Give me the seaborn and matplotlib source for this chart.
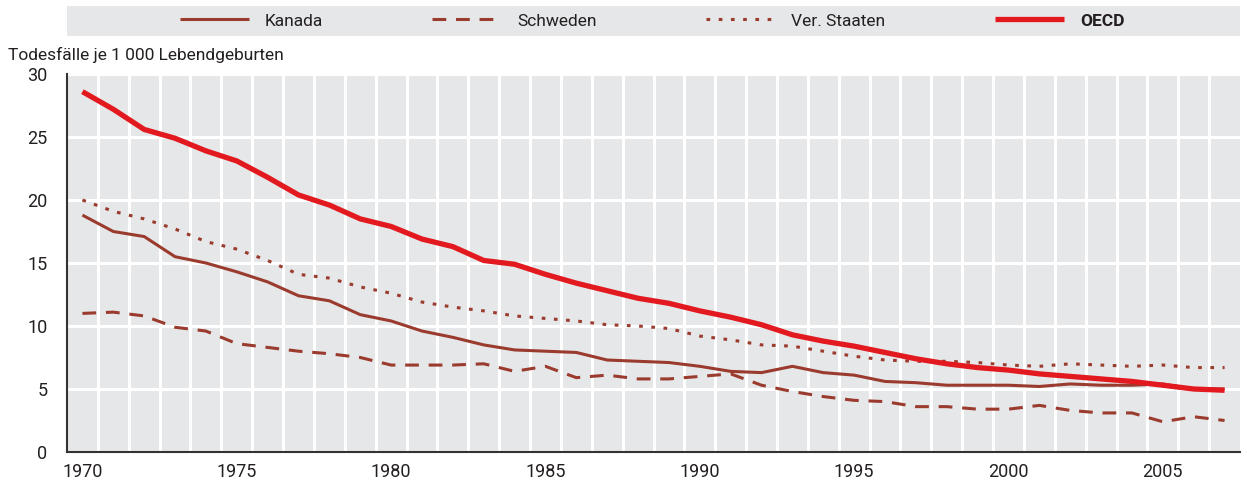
import numpy as np
import pandas as pd
import matplotlib
matplotlib.use("Agg")
import matplotlib.pyplot as plt
import seaborn as sns

# Data (deaths per 1 000 live births)
years = list(range(1970, 2008))
kanada = [18.8, 17.5, 17.1, 15.5, 15.0, 14.3, 13.5, 12.4, 12.0, 10.9,
          10.4, 9.6, 9.1, 8.5, 8.1, 8.0, 7.9, 7.3, 7.2, 7.1,
          6.8, 6.4, 6.3, 6.8, 6.3, 6.1, 5.6, 5.5, 5.3, 5.3,
          5.3, 5.2, 5.4, 5.3, 5.3, 5.4, 5.0, 5.0]
schweden = [11.0, 11.1, 10.8, 9.9, 9.6, 8.6, 8.3, 8.0, 7.8, 7.5,
            6.9, 6.9, 6.9, 7.0, 6.4, 6.8, 5.9, 6.1, 5.8, 5.8,
            6.0, 6.2, 5.3, 4.8, 4.4, 4.1, 4.0, 3.6, 3.6, 3.4,
            3.4, 3.7, 3.3, 3.1, 3.1, 2.4, 2.8, 2.5]
usa = [20.0, 19.1, 18.5, 17.7, 16.7, 16.1, 15.2, 14.1, 13.8, 13.1,
       12.6, 11.9, 11.5, 11.2, 10.8, 10.6, 10.4, 10.1, 10.0, 9.8,
       9.2, 8.9, 8.5, 8.4, 8.0, 7.6, 7.3, 7.2, 7.2, 7.1,
       6.9, 6.8, 7.0, 6.9, 6.8, 6.9, 6.7, 6.7]
oecd = [28.6, 27.2, 25.6, 24.9, 23.9, 23.1, 21.8, 20.4, 19.6, 18.5,
        17.9, 16.9, 16.3, 15.2, 14.9, 14.1, 13.4, 12.8, 12.2, 11.8,
        11.2, 10.7, 10.1, 9.3, 8.8, 8.4, 7.9, 7.4, 7.0, 6.7,
        6.5, 6.2, 6.0, 5.8, 5.6, 5.3, 5.0, 4.9]
labels = ["Kanada", "Schweden", "Ver. Staaten", "OECD"]
yticks = [0, 5, 10, 15, 20, 25, 30]
xlabels = [1970, 1975, 1980, 1985, 1990, 1995, 2000, 2005]

brown = "#9A3B2E"
red = "#E2191F"
grey = "#E6E7E9"
txt = "#231F20"

sns.set_style("white")
plt.rcParams["font.family"] = ["Roboto", "DejaVu Sans"]
plt.rcParams["font.size"] = 12.5

fig = plt.figure(figsize=(12.47, 4.83), dpi=100)
ax = fig.add_axes([67 / 1247, 31 / 483, 1173 / 1247, 378 / 483])
ax.set_facecolor(grey)

series = [kanada, schweden, usa, oecd]
styles = [
    dict(color=brown, lw=2.2, dashes=None),
    dict(color=brown, lw=2.2, dashes=(4.5, 3.2)),
    dict(color=brown, lw=2.2, dashes=(1.2, 2.8)),
    dict(color=red, lw=3.8, dashes=None),
]
handles = []
for name, vals, st in zip(labels, series, styles):
    df = pd.DataFrame({"Jahr": years, "Wert": vals})
    sns.lineplot(data=df, x="Jahr", y="Wert", ax=ax, color=st["color"],
                 linewidth=st["lw"], label=name, legend=False)
    line = ax.get_lines()[-1]
    if st["dashes"] is not None:
        line.set_dashes(st["dashes"])
    line.set_solid_capstyle("butt")
    line.set_dash_capstyle("butt")
    handles.append(line)

ax.set_xlim(1969.5, 2007.5)
ax.set_ylim(0, 30)
ax.set_xticks(xlabels)
ax.set_xticks(np.arange(1969.5, 2008, 1), minor=True)
ax.set_yticks(yticks)
ax.tick_params(axis="x", which="major", length=0, pad=8, labelsize=13, labelcolor=txt)
ax.tick_params(axis="x", which="minor", length=6, width=1.2, direction="out", color="#333333")
ax.tick_params(axis="y", length=7, width=1.2, direction="in", pad=14, labelsize=13,
               labelcolor=txt, color="#333333")
ax.grid(False)
for x in np.arange(1970.5, 2007.5, 1):
    ax.axvline(x, color="white", lw=2.2, zorder=0.5)
for y in yticks[1:]:
    ax.axhline(y, color="white", lw=2.2, zorder=0.5)
ax.set_xlabel("")
ax.set_ylabel("")
for s in ["top", "right"]:
    ax.spines[s].set_visible(False)
for s in ["left", "bottom"]:
    ax.spines[s].set_color("#333333")
    ax.spines[s].set_linewidth(1.5)

fig.text(8 / 1247, 1 - 55 / 483, "Todesfälle je 1 000 Lebendgeburten",
         fontsize=12.5, color=txt, va="center", ha="left")

# legend strip on grey band
fig.patches.append(plt.Rectangle((67 / 1247, 1 - 36 / 483), 1173 / 1247, 30 / 483,
                                 transform=fig.transFigure, facecolor=grey,
                                 edgecolor="none", zorder=0))
leg = fig.legend(handles, labels, loc="center", ncol=4,
                 bbox_to_anchor=(652 / 1247, 1 - 21 / 483), frameon=False,
                 handlelength=4.0, columnspacing=6.3, handletextpad=0.9,
                 fontsize=12.5)
for t in leg.get_texts():
    t.set_color(txt)
leg.get_texts()[3].set_fontweight("bold")

fig.savefig("out.png", dpi=100)
